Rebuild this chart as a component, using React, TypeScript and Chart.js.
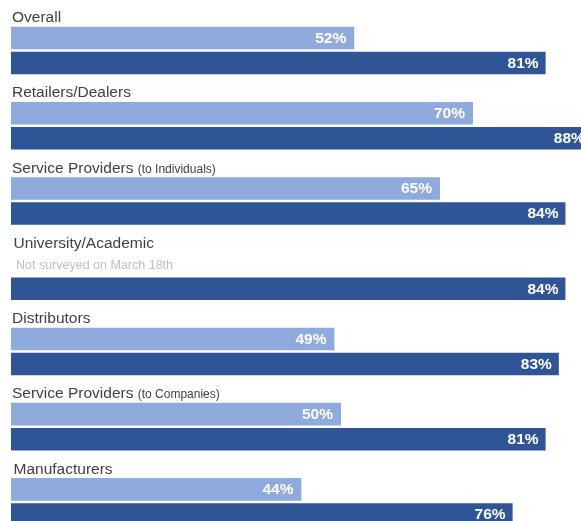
import React, { useEffect, useRef } from "react";
import { Chart, registerables } from "chart.js";

Chart.register(...registerables);

const categories = [
  "Overall",
  "Retailers/Dealers",
  "Service Providers",
  "University/Academic",
  "Distributors",
  "Service Providers",
  "Manufacturers",
];
const subLabels = ["", "", "(to Individuals)", "", "", "(to Companies)", ""];
const earlierValues: (number | null)[] = [52, 70, 65, null, 49, 50, 44];
const laterValues: (number | null)[] = [81, 88, 84, 84, 83, 81, 76];
const notes = ["", "", "", "Not surveyed on March 18th", "", "", ""];

const LIGHT = "#8FAADC";
const DARK = "#2F5597";
const FONT = "'Liberation Sans', Arial, sans-serif";

const labelPlugin = {
  id: "labelPlugin",
  afterDatasetsDraw(chart: any) {
    const ctx = chart.ctx;
    const yScale = chart.scales.y;
    const n = categories.length;
    const catH = yScale.height / n;
    const slot = catH / 3;
    ctx.save();
    for (let i = 0; i < n; i++) {
      const center = yScale.getPixelForValue(i);
      const groupTop = center - catH / 2;
      const lightTop = groupTop + slot + (slot * 0.1) / 2;
      const baseline = lightTop - 4.5;
      const x = i === 3 || i === 6 ? 13.5 : 12;
      ctx.textBaseline = "alphabetic";
      ctx.textAlign = "left";
      ctx.fillStyle = "#404040";
      ctx.font = `15.5px ${FONT}`;
      ctx.fillText(categories[i], x, baseline);
      if (subLabels[i]) {
        const w = ctx.measureText(categories[i] + " ").width;
        ctx.font = `12px ${FONT}`;
        ctx.fillText(subLabels[i], x + w, baseline);
      }
      if (notes[i]) {
        ctx.fillStyle = "#BFBFBF";
        ctx.font = `12.5px ${FONT}`;
        ctx.fillText(notes[i], 16, groupTop + slot * 1.5 + 5.5);
      }
    }
    ctx.font = `bold 15.5px ${FONT}`;
    ctx.fillStyle = "#FFFFFF";
    ctx.textAlign = "right";
    ctx.textBaseline = "middle";
    [1, 2].forEach((di) => {
      const meta = chart.getDatasetMeta(di);
      const data = chart.data.datasets[di].data;
      meta.data.forEach((bar: any, i: number) => {
        const v = data[i];
        if (v === null || v === undefined) return;
        const pad = di === 1 ? 8 : 7;
        ctx.fillText(`${v}%`, bar.x - pad, bar.y + 0.5);
      });
    });
    ctx.restore();
  },
};

export default function App() {
  const ref = useRef<HTMLCanvasElement | null>(null);
  useEffect(() => {
    if (!ref.current) return;
    const chart = new Chart(ref.current, {
      type: "bar",
      data: {
        labels: categories,
        datasets: [
          {
            label: "spacer",
            data: categories.map(() => null),
            backgroundColor: "transparent",
          },
          {
            label: "Earlier",
            data: earlierValues,
            backgroundColor: LIGHT,
          },
          {
            label: "Later",
            data: laterValues,
            backgroundColor: DARK,
          },
        ],
      },
      options: {
        indexAxis: "y",
        animation: false,
        responsive: true,
        maintainAspectRatio: false,
        layout: { padding: { left: 11, right: 0, top: 0.4, bottom: 0 } },
        datasets: {
          bar: { categoryPercentage: 1, barPercentage: 0.9 },
        },
        scales: {
          x: { display: false, min: 0, max: 86.36 },
          y: { display: false },
        },
        plugins: {
          legend: { display: false },
          tooltip: { enabled: false },
        },
      },
      plugins: [labelPlugin],
    });
    return () => chart.destroy();
  }, []);
  return (
    <div
      style={{
        position: "absolute",
        left: 0,
        top: 0,
        width: 581,
        height: 521,
        overflow: "hidden",
        background: "#fff",
      }}
    >
      <div style={{ position: "relative", width: 581, height: 527 }}>
        <canvas ref={ref} />
      </div>
    </div>
  );
}
